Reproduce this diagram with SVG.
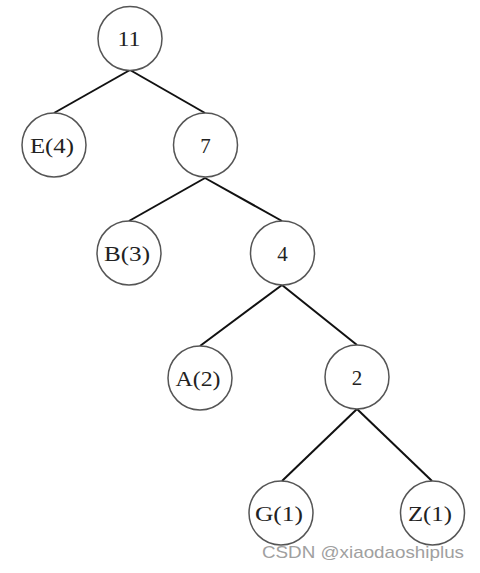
<svg xmlns="http://www.w3.org/2000/svg" width="480" height="573" viewBox="0 0 480 573">
<style>
.n circle{fill:#fff;stroke:#555;stroke-width:1.5}
.n text{font-family:"Liberation Serif","DejaVu Serif",serif;font-size:21px;fill:#222;text-anchor:middle}
.e line{stroke:#111;stroke-width:2}
.wm{font-family:"Liberation Sans",Arial,sans-serif;font-size:17px;fill:#a0a0a0}
</style>
<rect width="480" height="573" fill="#fff"/>
<g id="edges" class="e">
<line x1="130" y1="70" x2="54" y2="113"/>
<line x1="130" y1="70" x2="205" y2="113"/>
<line x1="205" y1="178" x2="129" y2="221"/>
<line x1="205" y1="178" x2="282" y2="221"/>
<line x1="282" y1="285" x2="200" y2="346"/>
<line x1="282" y1="285" x2="357" y2="345"/>
<line x1="357" y1="409" x2="282" y2="481"/>
<line x1="357" y1="409" x2="432" y2="481"/>
</g>
<g id="n11" class="n"><circle cx="130" cy="38.5" r="32"/><text x="129" y="46" textLength="23" lengthAdjust="spacingAndGlyphs">11</text></g>
<g id="nE" class="n"><circle cx="54" cy="145" r="32"/><text x="52" y="153" textLength="44" lengthAdjust="spacingAndGlyphs">E(4)</text></g>
<g id="n7" class="n"><circle cx="205.5" cy="145" r="32"/><text x="205.5" y="153">7</text></g>
<g id="nB" class="n"><circle cx="129" cy="253" r="32"/><text x="127" y="261" textLength="46" lengthAdjust="spacingAndGlyphs">B(3)</text></g>
<g id="n4" class="n"><circle cx="282.5" cy="253" r="32"/><text x="282.5" y="261">4</text></g>
<g id="nA" class="n"><circle cx="200" cy="378" r="32"/><text x="198" y="386" textLength="45" lengthAdjust="spacingAndGlyphs">A(2)</text></g>
<g id="n2" class="n"><circle cx="357" cy="377" r="32"/><text x="357" y="385">2</text></g>
<g id="nG" class="n"><circle cx="281" cy="513" r="32"/><text x="279" y="521" textLength="48" lengthAdjust="spacingAndGlyphs">G(1)</text></g>
<g id="nZ" class="n"><circle cx="432.5" cy="513" r="32"/><text x="430" y="521" textLength="44" lengthAdjust="spacingAndGlyphs">Z(1)</text></g>
<text class="wm" x="262" y="558" textLength="202" lengthAdjust="spacingAndGlyphs">CSDN @xiaodaoshiplus</text>
</svg>
